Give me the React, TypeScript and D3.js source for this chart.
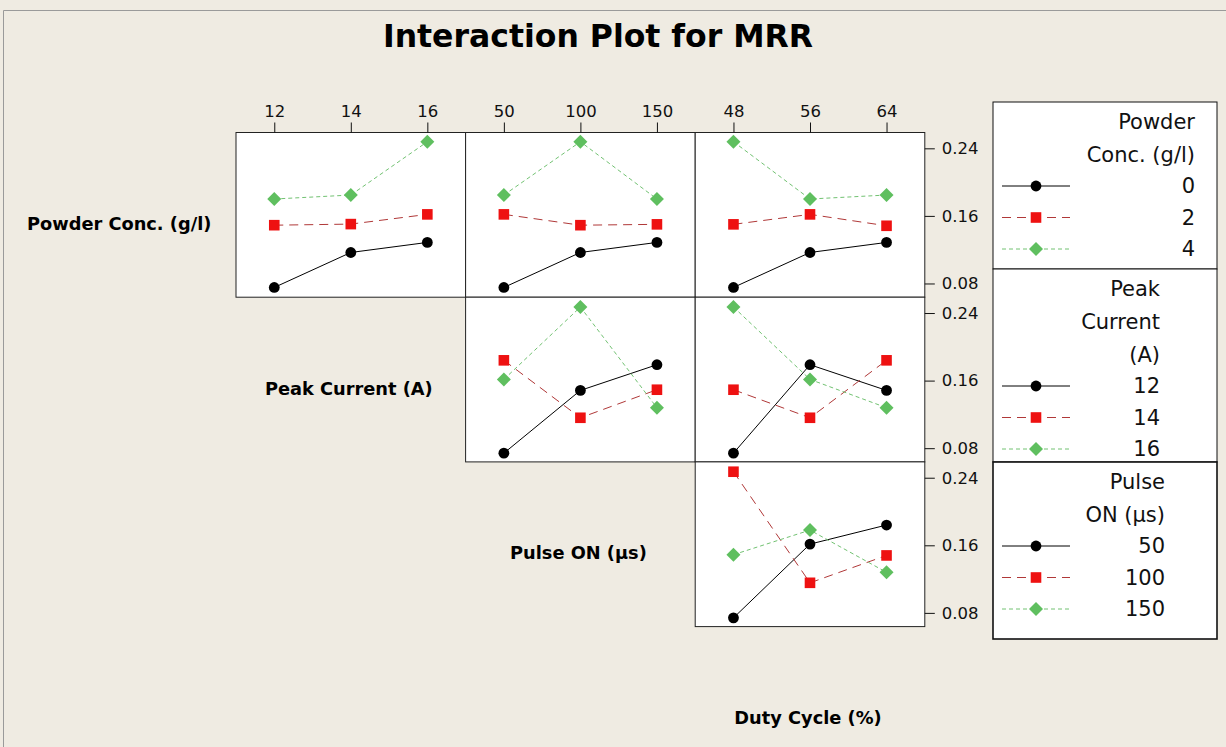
import React, { useEffect, useRef } from "react";
import * as d3 from "d3";

// factor levels (tick labels)
const powderLevels = ["0", "2", "4"];
const peakLevels = ["12", "14", "16"];
const pulseLevels = ["50", "100", "150"];
const dutyLevels = ["48", "56", "64"];
const yTicks = [0.08, 0.16, 0.24];

// mean MRR, one array per level of the line factor
const powderByPeak = [
  [0.0753, 0.1167, 0.1286],
  [0.149, 0.1503, 0.1618],
  [0.18, 0.1847, 0.2478],
];
const powderByPulse = [
  [0.0753, 0.1167, 0.1286],
  [0.1618, 0.149, 0.15],
  [0.1847, 0.2478, 0.18],
];
const powderByDuty = [
  [0.0753, 0.1167, 0.1286],
  [0.15, 0.1618, 0.1483],
  [0.2478, 0.18, 0.1847],
];
const peakByPulse = [
  [0.0741, 0.1484, 0.1788],
  [0.184, 0.116, 0.1492],
  [0.1614, 0.2471, 0.1279],
];
const peakByDuty = [
  [0.0741, 0.1788, 0.1484],
  [0.1492, 0.116, 0.184],
  [0.2471, 0.1614, 0.1279],
];
const pulseByDuty = [
  [0.0741, 0.1614, 0.184],
  [0.2471, 0.1156, 0.148],
  [0.1489, 0.178, 0.128],
];

const factors = [
  { name: "Powder Conc. (g/l)", legend: ["Powder", "Conc. (g/l)"], levels: powderLevels },
  { name: "Peak Current (A)", legend: ["Peak", "Current", "(A)"], levels: peakLevels },
  { name: "Pulse ON (µs)", legend: ["Pulse", "ON (µs)"], levels: pulseLevels },
  { name: "Duty Cycle (%)", legend: [], levels: dutyLevels },
];

const panels = [
  { row: 0, col: 1, values: powderByPeak },
  { row: 0, col: 2, values: powderByPulse },
  { row: 0, col: 3, values: powderByDuty },
  { row: 1, col: 2, values: peakByPulse },
  { row: 1, col: 3, values: peakByDuty },
  { row: 2, col: 3, values: pulseByDuty },
];

const styles = [
  { line: "#000000", dash: null, fill: "#000000", shape: "circle" },
  { line: "#b03838", dash: "9,6", fill: "#ee1111", shape: "square" },
  { line: "#72c272", dash: "4,3", fill: "#5fbf5f", shape: "diamond" },
];

const W = 1226, H = 747;
const BG = "#efebe2";
const sans = "Tahoma, 'DejaVu Sans', sans-serif";

export default function App() {
  const ref = useRef<SVGSVGElement>(null);

  useEffect(() => {
    const svg = d3.select(ref.current);
    svg.selectAll("*").remove();

    const gridLeft = 236, gridTop = 132.5, cellW = 229.6, cellH = 164.7;

    svg.append("rect").attr("width", W).attr("height", H).attr("fill", BG);
    // window frame
    svg.append("path").attr("d", "M3.5,747V10.5H1226")
      .attr("fill", "none").attr("stroke", "#9a9a9a").attr("stroke-width", 1);

    svg.append("text")
      .text("Interaction Plot for MRR")
      .attr("x", 598).attr("y", 47)
      .attr("text-anchor", "middle")
      .attr("font-family", sans).attr("font-weight", "bold")
      .attr("font-size", 31.5)

    const y = d3.scaleLinear().domain([0.06376, 0.25873]).range([cellH, 0]);

    const marker = (g: any, shape: string, fill: string) => {
      if (shape === "circle")
        g.append("circle").attr("r", 5.4).attr("fill", fill);
      else if (shape === "square")
        g.append("rect").attr("x", -5.3).attr("y", -5.3).attr("width", 10.6).attr("height", 10.6).attr("fill", fill);
      else
        g.append("path").attr("d", "M0,-7L7,0L0,7L-7,0Z").attr("fill", fill);
    };

    // row labels on the diagonal
    factors.forEach((f, i) => {
      svg.append("text")
        .text(f.name)
        .attr("x", gridLeft + (i - 1) * cellW + cellW / 2 - 2)
        .attr("y", gridTop + i * cellH + cellH / 2 + 9)
        .attr("dy", "0.35em")
        .attr("text-anchor", "middle")
        .attr("font-family", sans).attr("font-weight", "bold")
        .attr("font-size", 17.8)
    });

    panels.forEach(p => {
      const px = gridLeft + (p.col - 1) * cellW;
      const py = gridTop + p.row * cellH;
      const xLevels = factors[p.col].levels;
      const x = d3.scalePoint<string>().domain(xLevels).range([0, cellW]).padding(0.5);

      const g = svg.append("g").attr("transform", "translate(" + px + "," + py + ")");
      g.append("rect")
        .attr("width", cellW).attr("height", cellH)
        .attr("fill", "#fff").attr("stroke", "#222").attr("stroke-width", 1);

      if (p.row === 0) {
        const ax = g.append("g")
          .call(d3.axisTop(x).tickSize(10).tickPadding(6));
        ax.select(".domain").remove();
        ax.selectAll("line").attr("stroke", "#111");
        ax.selectAll("text").attr("font-family", sans).attr("font-size", 16.5).attr("fill", "#111");
      }
      if (p.col === 3) {
        const ay = g.append("g")
          .attr("transform", "translate(" + cellW + ",0)")
          .call(d3.axisRight(y).tickValues(yTicks).tickFormat(d3.format(".2f")).tickSize(10).tickPadding(7));
        ay.select(".domain").remove();
        ay.selectAll("line").attr("stroke", "#111");
        ay.selectAll("text").attr("font-family", sans).attr("font-size", 16.5).attr("fill", "#111");
      }

      const line = d3.line<number>()
        .x((d, i) => x(xLevels[i]) as number)
        .y(d => y(d));

      p.values.forEach((vals, s) => {
        const st = styles[s];
        g.append("path")
          .datum(vals)
          .attr("d", line)
          .attr("fill", "none")
          .attr("stroke", st.line)
          .attr("stroke-width", 1)
          .attr("stroke-dasharray", st.dash);
      });
      p.values.forEach((vals, s) => {
        const st = styles[s];
        vals.forEach((v, i) => {
          const m = g.append("g").attr("transform", "translate(" + x(xLevels[i]) + "," + y(v) + ")");
          marker(m, st.shape, st.fill);
        });
      });
    });

    // legends
    const legendX = 993, legendW = 224;
    const boxes = [
      { top: 102, bottom: 269, anchor: 1195 },
      { top: 269, bottom: 462, anchor: 1160 },
      { top: 462, bottom: 639, anchor: 1165 },
    ];
    boxes.forEach((b, i) => {
      const f = factors[i];
      svg.append("rect")
        .attr("x", legendX).attr("y", b.top)
        .attr("width", legendW).attr("height", b.bottom - b.top)
        .attr("fill", "#fff").attr("stroke", "#111").attr("stroke-width", i === 2 ? 1.6 : 1);
      let yy = b.top + 20;
      f.legend.forEach((t, j) => {
        svg.append("text").text(t)
          .attr("x", b.anchor).attr("y", yy + j * 33)
          .attr("dy", "0.35em").attr("text-anchor", "end")
          .attr("font-family", sans).attr("font-size", 21).attr("fill", "#111");
      });
      yy += (f.legend.length - 1) * 33 + 31;
      f.levels.forEach((lv, j) => {
        const st = styles[j];
        const ly = yy + j * 31.5;
        svg.append("line")
          .attr("x1", 1002).attr("x2", 1070).attr("y1", ly).attr("y2", ly)
          .attr("stroke", st.line).attr("stroke-width", 1).attr("stroke-dasharray", st.dash);
        marker(svg.append("g").attr("transform", "translate(1036," + ly + ")"), st.shape, st.fill);
        svg.append("text").text(lv)
          .attr("x", b.anchor).attr("y", ly)
          .attr("dy", "0.35em").attr("text-anchor", "end")
          .attr("font-family", sans).attr("font-size", 21).attr("fill", "#111");
      });
    });
  }, []);

  return <svg ref={ref} width={W} height={H} style={{ position: "absolute", left: 0, top: 0, display: "block" }}></svg>;
}
